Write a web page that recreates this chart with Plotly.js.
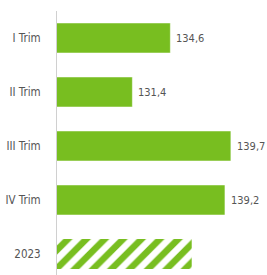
<!DOCTYPE html>
<html>
<head>
<meta charset="utf-8">
<script src="https://cdn.plot.ly/plotly-3.0.1.min.js"></script>
<style>html,body{margin:0;padding:0;background:#fff;}#chart{width:267px;height:275px;}</style>
</head>
<body>
<div id="chart"></div>
<script>
var categories = ["I Trim", "II Trim", "III Trim", "IV Trim", "2023"];
var values = [134.6, 131.4, 139.7, 139.2, 136.4];
var valueLabels = ["134,6", "131,4", "139,7", "139,2", "136,4"];

var green = "#78BE20";
var FONT = "'DejaVu Sans Condensed', 'Liberation Sans Narrow', sans-serif";

var solidCats = categories.slice(0, 4), solidVals = values.slice(0, 4);
var hatchCats = categories.slice(4), hatchVals = values.slice(4);

var traces = [
  {
    type: "bar", orientation: "h",
    x: solidVals, y: solidCats,
    marker: {color: green, line: {color: "rgba(255,255,255,0.5)", width: 1}},
    hoverinfo: "none"
  },
  {
    type: "bar", orientation: "h",
    x: hatchVals, y: hatchCats,
    marker: {color: "#ffffff", line: {width: 0},
      pattern: {shape: "/", fgcolor: green, bgcolor: "#ffffff", size: 13, solidity: 0.5}},
    hoverinfo: "none"
  }
];

var annotations = categories.map(function (c, i) {
  return {x: values[i], y: c, xref: "x", yref: "y", text: valueLabels[i],
    showarrow: false, xanchor: "left", yanchor: "middle", xshift: 4,
    font: {family: FONT, size: 11, color: "#555555"}};
});

var layout = {
  width: 267, height: 275,
  margin: {l: 57, r: 10, t: 11, b: 0},
  paper_bgcolor: "#ffffff", plot_bgcolor: "#ffffff",
  showlegend: false, barmode: "overlay", bargap: 0.444,
  xaxis: {range: [125.05, 141.9], showgrid: false, zeroline: false, showline: false,
    showticklabels: false, ticks: "", fixedrange: true},
  yaxis: {type: "category", categoryorder: "array", categoryarray: categories,
    range: [4.389, -0.5], showgrid: false, zeroline: false,
    showline: true, linecolor: "#d0d0d0", linewidth: 1,
    ticks: "outside", ticklen: 13, tickcolor: "rgba(0,0,0,0)",
    tickfont: {family: FONT, size: 11.5, color: "#555555"}, fixedrange: true},
  annotations: annotations
};

Plotly.newPlot("chart", traces, layout, {displayModeBar: false, staticPlot: true});
</script>
</body>
</html>
